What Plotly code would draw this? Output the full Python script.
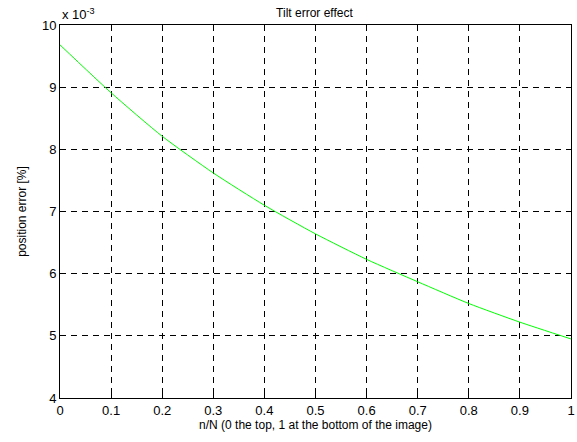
import plotly.graph_objects as go

# n/N positions and position error values (in units of 1e-3 %)
x_vals = [0.0, 0.1, 0.2, 0.3, 0.4, 0.5, 0.6, 0.7, 0.8, 0.9, 1.0]
err_vals = [9.68, 8.91, 8.21, 7.62, 7.10, 6.64, 6.23, 5.87, 5.52, 5.22, 4.95]

x_ticks = [0, 0.1, 0.2, 0.3, 0.4, 0.5, 0.6, 0.7, 0.8, 0.9, 1]
x_tick_labels = ["0", "0.1", "0.2", "0.3", "0.4", "0.5", "0.6", "0.7", "0.8", "0.9", "1"]
y_ticks = [4, 5, 6, 7, 8, 9, 10]
y_tick_labels = ["4", "5", "6", "7", "8", "9", "10"]

FONT = "Liberation Sans, Arial, sans-serif"

fig = go.Figure()
fig.add_trace(go.Scatter(
    x=x_vals, y=err_vals, mode="lines",
    line=dict(color="#00ff00", width=1, shape="spline", smoothing=0.6),
    showlegend=False, hoverinfo="x+y",
))

axis_common = dict(
    showline=True, linecolor="black", linewidth=1, mirror="ticks",
    ticks="inside", ticklen=5, tickcolor="black",
    showgrid=True, gridcolor="black", gridwidth=1, griddash="6px,5px",
    zeroline=False, automargin=False, ticklabeloverflow="allow",
    tickfont=dict(family=FONT, size=13, color="black"),
)

fig.update_layout(
    width=577, height=442,
    margin=dict(l=60, r=6, t=25, b=44),
    paper_bgcolor="white", plot_bgcolor="white",
    title=dict(text="Tilt error effect", x=0.545, xanchor="center", y=0.972, yanchor="middle",
               font=dict(family=FONT, size=12, color="black")),
    xaxis=dict(range=[0, 1], tickvals=x_ticks, ticktext=x_tick_labels,
               title=dict(text="n/N (0 the top, 1 at the bottom of the image)", standoff=4,
                          font=dict(family=FONT, size=12, color="black")),
               **axis_common),
    yaxis=dict(range=[4, 10], tickvals=y_ticks, ticktext=y_tick_labels,
               title=dict(text="position error [%]", standoff=12,
                          font=dict(family=FONT, size=12, color="black")),
               **axis_common),
    annotations=[dict(text="x 10<sup>-3</sup>", xref="paper", yref="paper",
                      x=0, y=1, xanchor="left", yanchor="bottom", yshift=1, showarrow=False,
                      font=dict(family=FONT, size=13, color="black"))],
)

fig.write_html("out.html", config={"displayModeBar": False},
               post_script="document.body.style.margin='0';document.body.style.overflow='hidden';")
